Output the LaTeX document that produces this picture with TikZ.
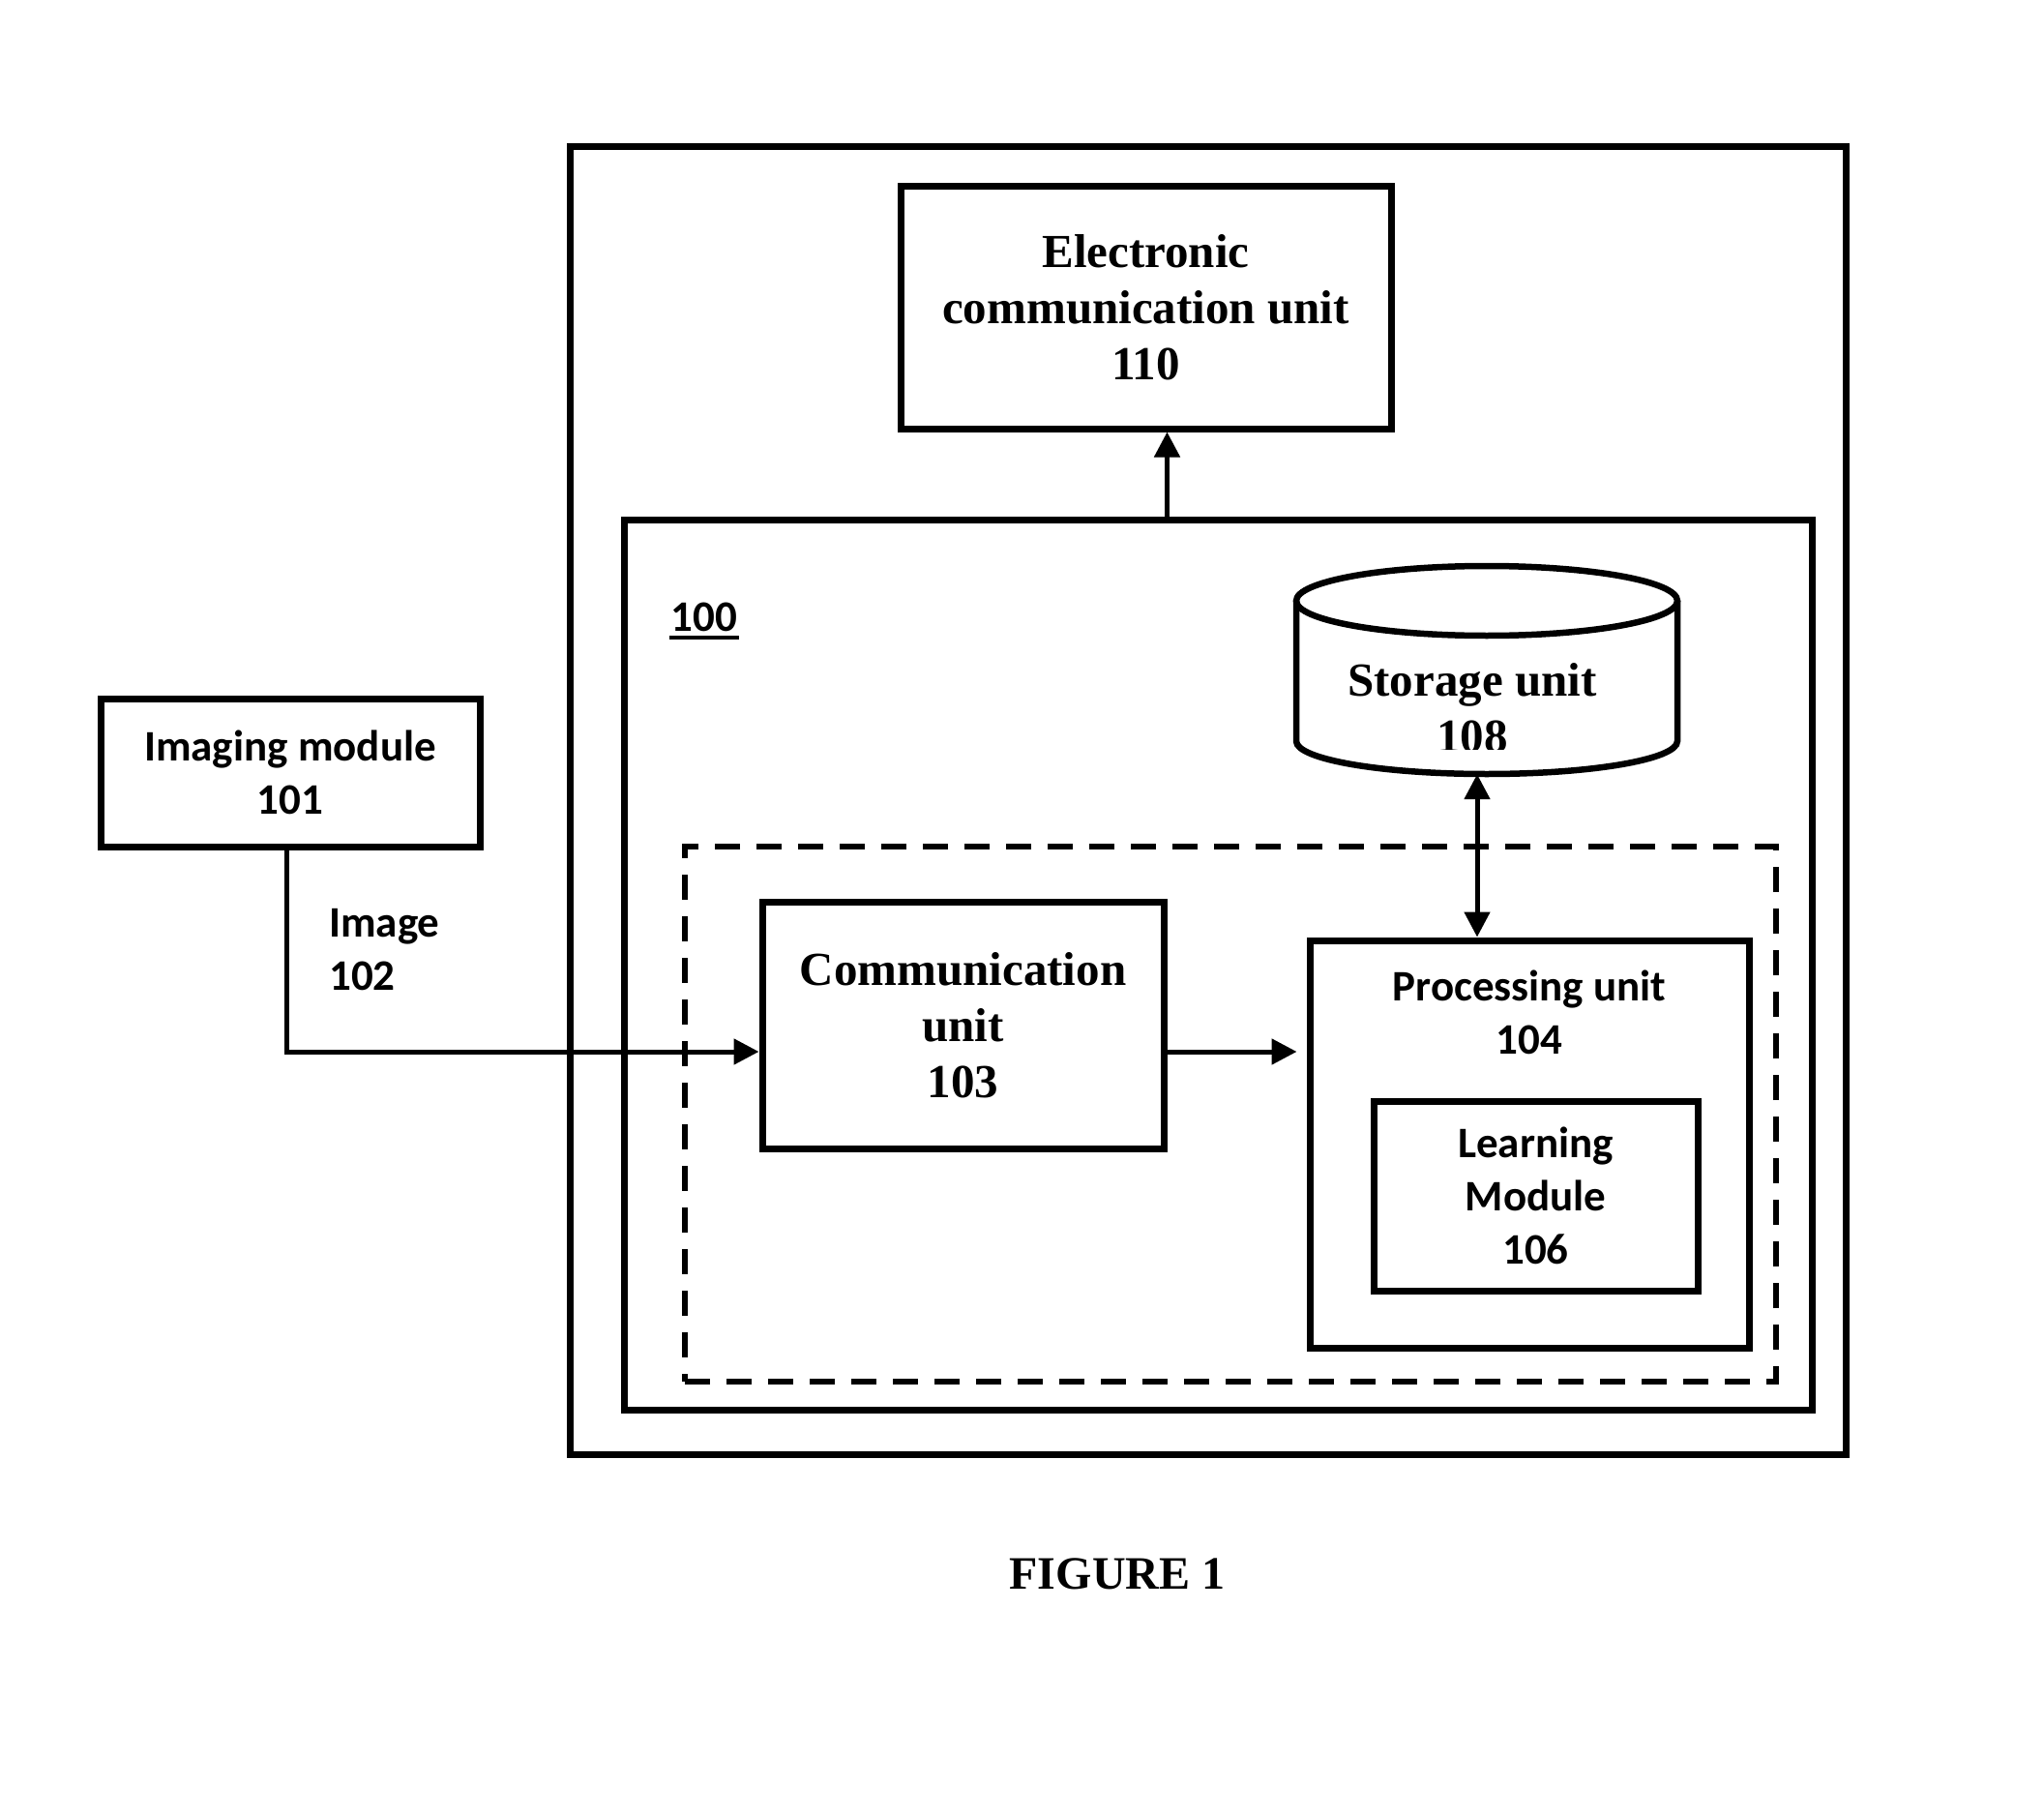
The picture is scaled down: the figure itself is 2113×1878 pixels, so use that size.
\documentclass[tikz,border=0pt]{standalone}
\usepackage{fontspec}
\setmainfont{Liberation Serif}
\newfontfamily\calfont{Carlito}
\usetikzlibrary{arrows.meta}
\begin{document}
\begin{tikzpicture}[x=1pt,y=-1pt,
  box/.style={draw, line width=7pt, inner sep=0pt, align=center},
  serif/.style={font=\fontsize{49}{58}\selectfont\bfseries},
  sans/.style={font=\fontsize{45}{55}\selectfont\calfont\bfseries},
  conn/.style={line width=5pt},
  arr/.style={conn, -{Triangle[length=26pt,width=26pt]}},
  dbl/.style={conn, {Triangle[length=26pt,width=26pt]}-{Triangle[length=26pt,width=26pt]}},
  dashbox/.style={draw, line width=6pt, dash pattern=on 26pt off 17pt, inner sep=0pt},
  cyl/.style={line width=6.5pt}
]
\useasboundingbox (0,0) rectangle (2113,1878);

% containers
\node[box, minimum width=1319pt, minimum height=1351pt] (outer) at (1248.5,827.5) {};
\node[box, minimum width=1228pt, minimum height=920pt] (inner) at (1259,997) {};
\node[dashbox, minimum width=1128pt, minimum height=553pt] (dash) at (1272,1151.5) {};

% blocks
\node[box, serif, minimum width=507pt, minimum height=250pt] (elec) at (1184.5,318) {Electronic\\communication unit\\110};
\node[box, serif, minimum width=415pt, minimum height=255pt] (comm) at (995.5,1059.5) {Communication\\unit\\103};
\node[box, minimum width=454pt, minimum height=421pt] (proc) at (1581,1182.5) {};
\node[sans, align=center] (ptext) at (1581,1046) {Processing unit\\104};
\node[box, sans, minimum width=335pt, minimum height=196pt] (learn) at (1587.5,1236) {Learning\\Module\\106};
\node[box, sans, minimum width=392pt, minimum height=153pt] (img) at (300,798.5) {Imaging module\\101};

% storage cylinder
\draw[cyl] (1340,621) -- (1340,766) arc[start angle=180, end angle=0, x radius=197, y radius=34] -- (1734,621);
\draw[cyl] (1537,621) ellipse [x radius=197, y radius=36];
\node[minimum width=394pt, minimum height=215pt, inner sep=0pt] (storage) at (1537,692.5) {};
\begin{scope}
  \clip (1340,600) rectangle (1734,774);
  \node[serif, align=center] (stext) at (1522,732) {Storage unit\\108};
\end{scope}

% labels
\node[sans, inner sep=0pt, anchor=base] (lbl) at (728,652) {100};
\draw[line width=3.3pt] ([xshift=-2pt,yshift=-7pt]lbl.base west) -- ([xshift=2pt,yshift=-7pt]lbl.base east);
\node[sans, align=left, anchor=west, inner sep=0pt] (imglabel) at (340,982) {Image\\102};
\node[font=\fontsize{48}{58}\selectfont\bfseries, anchor=base, inner sep=0pt] (fig) at (1155,1642) {FIGURE 1};

% connectors
\coordinate (cy) at (0,1087);
\draw[arr] ([xshift=-4pt]img.south) |- (comm.west |- cy);
\draw[arr, shorten >=10pt] (comm.east |- cy) -- (proc.west |- cy);
\draw[arr] (inner.north -| comm.east) -- (elec.south -| comm.east);
\draw[dbl] ([xshift=-10pt]storage.south) -- ([xshift=-10pt]storage.south |- proc.north);
\end{tikzpicture}
\end{document}
